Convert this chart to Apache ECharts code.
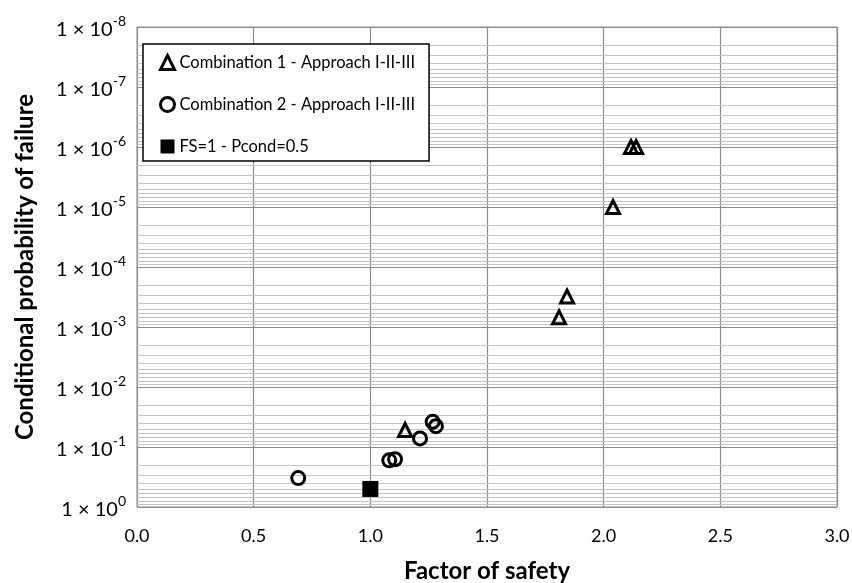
<!DOCTYPE html>
<html>
<head>
<meta charset="utf-8">
<script src="https://cdn.jsdelivr.net/npm/echarts@6/dist/echarts.min.js"></script>
<style>
html,body{margin:0;padding:0;background:#fff;}
#chart{width:852px;height:583px;}
</style>
</head>
<body>
<div id="chart"></div>
<script>
// Series names
var seriesNames = ['Combination 1 - Approach I-II-III', 'Combination 2 - Approach I-II-III', 'FS=1 - Pcond=0.5'];
// Combination 1 (triangles): factor of safety, conditional probability of failure
var comb1FS = [2.117, 2.139, 2.040, 1.843, 1.809, 1.149];
var comb1P  = [1e-6, 1e-6, 1e-5, 3.1e-4, 6.9e-4, 0.052];
// Combination 2 (circles)
var comb2FS = [0.691, 1.081, 1.106, 1.213, 1.267, 1.281];
var comb2P  = [0.33, 0.167, 0.16, 0.072, 0.038, 0.045];
// Reference point (square)
var refFS = [1.0];
var refP  = [0.5];
// Axis ticks
var xTicks = [0.0, 0.5, 1.0, 1.5, 2.0, 2.5, 3.0];
var yDecades = [-8, -7, -6, -5, -4, -3, -2, -1, 0];
var minorMultipliers = [2, 3, 4, 5, 6, 7, 8, 9];

function zip(a, b) { return a.map(function (v, i) { return [v, b[i]]; }); }

var minorLines = [];
yDecades.slice(0, -1).forEach(function (e) {
  minorMultipliers.forEach(function (m) {
    minorLines.push({ yAxis: m * Math.pow(10, e) });
  });
});

var FONT = 'Lato';
var chart = echarts.init(document.getElementById('chart'), null, { renderer: 'canvas' });
var option = {
  animation: false,
  backgroundColor: '#ffffff',
  textStyle: { fontFamily: FONT },
  grid: {
    left: 137, top: 27, width: 700, height: 480, show: true,
    borderColor: '#8c8c8c', borderWidth: 1,
    containLabel: false, outerBoundsMode: 'none'
  },
  legend: {
    orient: 'vertical',
    left: 143, top: 44,
    padding: [10, 14, 6, 16],
    itemGap: 25,
    itemWidth: 14, itemHeight: 14,
    backgroundColor: '#ffffff',
    borderColor: '#000000', borderWidth: 1.5,
    textStyle: { fontFamily: FONT, fontSize: 16.5, color: '#000' },
    data: [
      { name: seriesNames[0], icon: 'triangle', itemStyle: { color: 'transparent', borderColor: '#000', borderWidth: 3 } },
      { name: seriesNames[1], icon: 'circle', itemStyle: { color: 'transparent', borderColor: '#000', borderWidth: 3 } },
      { name: seriesNames[2], icon: 'rect', itemStyle: { color: '#000', borderWidth: 0 } }
    ]
  },
  xAxis: {
    type: 'value', min: 0, max: 3, interval: 0.5,
    name: 'Factor of safety', nameLocation: 'middle', nameGap: 52,
    nameTextStyle: { fontFamily: FONT, fontSize: 24, fontWeight: 'bold', color: '#000' },
    axisLine: { show: false }, axisTick: { show: false },
    axisLabel: { margin: 20, fontSize: 18, color: '#000', fontFamily: FONT, formatter: function (v) { return v.toFixed(1); } },
    splitLine: { show: true, lineStyle: { color: '#8c8c8c', width: 1.2 } }
  },
  yAxis: {
    type: 'log', logBase: 10, min: 1e-8, max: 1, inverse: true, interval: 1,
    name: 'Conditional probability of failure', nameLocation: 'middle', nameGap: 100,
    nameTextStyle: { fontFamily: FONT, fontSize: 24, fontWeight: 'bold', color: '#000' },
    axisLabel: {
      margin: 11, color: '#000', fontFamily: FONT, fontSize: 20,
      formatter: function (v) {
        var e = Math.round(Math.log10(v));
        return '{num|1 × 10}{sup|' + e + '}';
      },
      rich: {
        num: { fontSize: 20, fontFamily: FONT, color: '#000', verticalAlign: 'bottom', lineHeight: 26 },
        sup: { fontSize: 14, fontFamily: FONT, color: '#000', verticalAlign: 'top', lineHeight: 26, padding: [0, 0, 9, 0] }
      }
    },
    axisLine: { show: false }, axisTick: { show: false },
    splitLine: { show: true, lineStyle: { color: '#8c8c8c', width: 1.2 } }
  },
  series: [
    {
      name: seriesNames[0], type: 'scatter', symbol: 'triangle', symbolSize: 13,
      itemStyle: { color: 'transparent', borderColor: '#000', borderWidth: 3, opacity: 1 },
      data: zip(comb1FS, comb1P), z: 5,
      markLine: {
        silent: true, symbol: 'none', animation: false, precision: 12,
        label: { show: false },
        lineStyle: { color: '#c4c4c4', width: 1, type: 'solid' },
        emphasis: { disabled: true },
        data: minorLines, z: 1
      }
    },
    {
      name: seriesNames[1], type: 'scatter', symbol: 'circle', symbolSize: 13,
      itemStyle: { color: 'transparent', borderColor: '#000', borderWidth: 3, opacity: 1 },
      data: zip(comb2FS, comb2P), z: 5
    },
    {
      name: seriesNames[2], type: 'scatter', symbol: 'rect', symbolSize: 16,
      itemStyle: { color: '#000', opacity: 1 },
      data: zip(refFS, refP), z: 5
    }
  ]
};
chart.setOption(option);
</script>
</body>
</html>
